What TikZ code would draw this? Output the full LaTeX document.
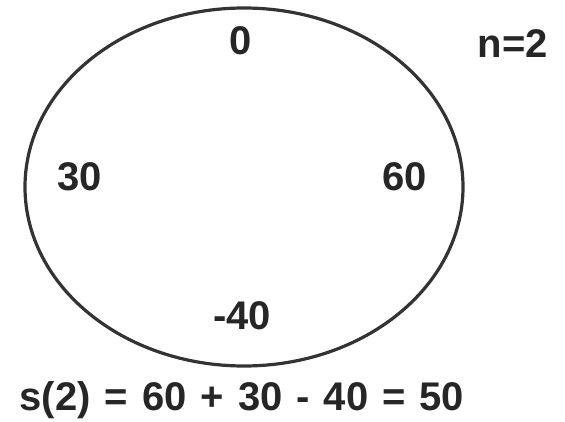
\documentclass[tikz,border=0pt]{standalone}
\usepackage{fontspec}
\setmainfont{Liberation Sans}
\begin{document}
\begin{tikzpicture}[x=1pt,y=-1pt,
  lbl/.style={font=\fontsize{40}{44}\selectfont\bfseries, text=black!85, inner sep=0pt}]
\useasboundingbox (0,0) rectangle (565,422);
\draw[line width=3.2pt, draw=black!80] (244,187) ellipse [x radius=219, y radius=179];
\node[lbl] (zero) at (241,41) {0};
\node[lbl] (n) at (513,44) {n=2};
\node[lbl] (thirty) at (80,177) {30};
\node[lbl] (sixty) at (405,177) {60};
\node[lbl] (m40) at (242,316) {-40};
\node[lbl] (eq) at (242,400) {s(2)\hspace{14pt}=\hspace{14pt}60\hspace{14pt}+\hspace{14pt}30\hspace{14pt}-\hspace{14pt}40\hspace{14pt}=\hspace{14pt}50};
\end{tikzpicture}
\end{document}
